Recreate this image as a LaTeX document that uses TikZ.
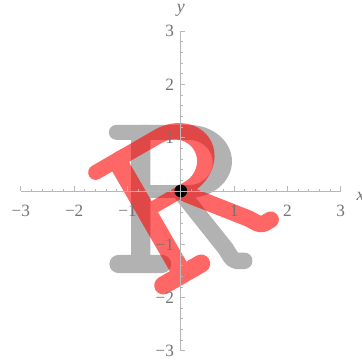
\documentclass[tikz,border=0pt]{standalone}
\usepackage{fontspec}
\setmainfont{Liberation Serif}
\newcommand{\Rglyph}[1]{%
  \draw[#1, line width=0.28cm, line cap=round] (-1.21,1.10) -- (-0.6,1.10);
  \draw[#1, line width=0.36cm] (-0.75,1.10) -- (-0.75,-1.37);
  \draw[#1, line width=0.34cm, line cap=round] (-1.17,-1.37) -- (-0.35,-1.37);
  \fill[#1, even odd rule]
    (-0.75,1.24) -- (0.15,1.24) arc[start angle=90, end angle=-90, x radius=0.81, y radius=0.685] -- (-0.75,-0.13) -- cycle
    (-0.6,0.96) -- (0.15,0.96) arc[start angle=90, end angle=-90, x radius=0.45, y radius=0.425] -- (-0.6,0.11) -- cycle;
  \draw[#1, line width=0.31cm, line cap=round, line join=round]
    (0.02,-0.05) -- (0.84,-1.08) .. controls (0.92,-1.2) and (0.95,-1.3) .. (1.05,-1.31) -- (1.19,-1.31);
}
\tikzset{
  axisline/.style={draw=black!28, line width=0.45pt},
  ticklab/.style={text=black!55, font=\fontsize{9.2}{11}\selectfont, inner sep=0pt},
}
\begin{document}
\begin{tikzpicture}[x=1cm, y=1cm]
  \useasboundingbox (-3.392,-3.246) rectangle (3.381,3.583);
  % original letter
  \begin{scope}[transparency group, opacity=0.3]
    \Rglyph{black}
  \end{scope}
  % rotated letter
  \begin{scope}[rotate=30, transparency group, opacity=0.6]
    \Rglyph{red}
  \end{scope}
  % fixed point
  \fill[black] (0,0) circle (0.12);
  % axes
  \draw[axisline] (-3,0) -- (3,0);
  \draw[axisline] (0,-3) -- (0,3);
  \foreach \i in {-15,...,15} {
    \draw[axisline] (\i/5,0) -- ++(0,0.045);
    \draw[axisline] (0,\i/5) -- ++(0.045,0);
  }
  \foreach \i in {-3,...,3} {
    \draw[axisline] (\i,0) -- ++(0,0.085);
    \draw[axisline] (0,\i) -- ++(0.085,0);
  }
  \foreach \i/\t/\n in {-3/−3/a,-2/−2/b,-1/−1/c,1/1/d,2/2/e,3/3/f} {
    \node[ticklab, anchor=base] (xl\n) at (\i,-0.48) {\t};
    \node[ticklab, anchor=base east] (yl\n) at (-0.12,\i-0.11) {\t};
  }
  \node[ticklab, anchor=base west, font=\fontsize{9.6}{11}\selectfont\itshape] (xlab) at (3.29,-0.17) {x};
  \node[ticklab, anchor=base, font=\fontsize{9.6}{11}\selectfont\itshape] (ylab) at (0,3.34) {y};
\end{tikzpicture}
\end{document}
